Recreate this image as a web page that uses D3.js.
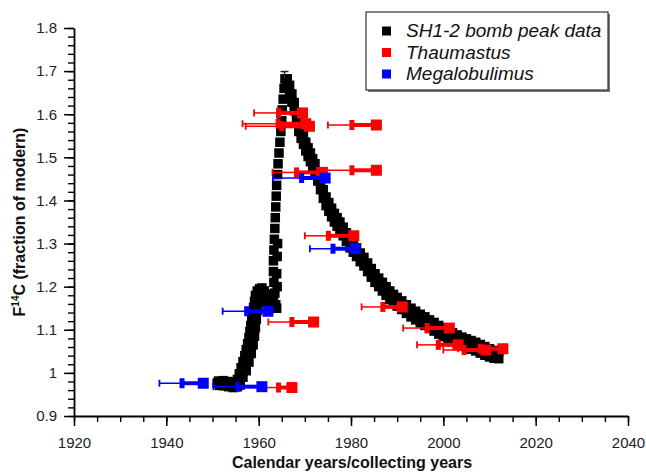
<!DOCTYPE html>
<html><head><meta charset="utf-8">
<script src="https://cdn.jsdelivr.net/npm/d3@7"></script>
<style>
body{margin:0;background:#fff}
svg{display:block;font-family:"Liberation Sans",Arial,Helvetica,sans-serif}
</style>
</head><body>
<svg id="chart" width="646" height="473"></svg>
<script>
// ---------- data ----------
const xTickValues = [1920, 1940, 1960, 1980, 2000, 2020, 2040];
const xTickLabels = ["1920", "1940", "1960", "1980", "2000", "2020", "2040"];
const yTickValues = [0.9, 1.0, 1.1, 1.2, 1.3, 1.4, 1.5, 1.6, 1.7, 1.8];
const yTickLabels = ["0.9", "1", "1.1", "1.2", "1.3", "1.4", "1.5", "1.6", "1.7", "1.8"];
const legendLabels = ["SH1-2 bomb peak data", "Thaumastus", "Megalobulimus"];
const xTitle = "Calendar years/collecting years";

// SH1-2 bomb peak data: [year, F14C]
const bombPeak = [
  [1951.0,0.976],[1951.5,0.971],[1952.0,0.977],[1952.5,0.970],[1953.0,0.975],[1953.5,0.968],
  [1954.0,0.973],[1954.5,0.966],[1955.0,0.975],[1951.3,0.981],[1952.3,0.982],[1953.3,0.980],
  [1954.2,0.979],[1955.4,0.968],[1956.0,0.972],
  [1955.4,0.985],[1955.8,0.998],[1956.2,1.012],[1956.6,1.026],[1957.0,1.040],[1957.3,1.054],
  [1957.6,1.068],[1957.9,1.082],[1958.1,1.096],[1958.3,1.110],[1958.5,1.124],[1958.7,1.138],
  [1958.9,1.152],[1959.1,1.166],[1959.3,1.180],[1959.7,1.190],[1960.2,1.195],[1960.7,1.197],
  [1961.2,1.190],[1961.7,1.183],[1962.2,1.175],[1962.7,1.170],[1963.2,1.165],[1963.7,1.158],
  [1956.6,0.990],[1957.3,1.005],[1957.9,1.025],[1958.4,1.045],[1958.8,1.065],[1959.1,1.085],
  [1959.3,1.105],[1959.5,1.125],[1959.7,1.145],[1960.0,1.165],[1960.6,1.172],[1961.2,1.166],
  [1961.8,1.161],[1962.4,1.158],[1963.0,1.152],[1963.9,1.150],
  [1963.5,1.185],[1963.3,1.210],[1963.2,1.235],[1963.2,1.260],[1963.3,1.285],[1963.4,1.310],
  [1963.5,1.335],[1963.6,1.360],[1963.7,1.385],[1963.8,1.410],[1963.9,1.435],[1964.1,1.460],
  [1964.2,1.485],[1964.4,1.510],[1964.6,1.535],[1964.8,1.560],[1965.0,1.585],[1965.1,1.610],
  [1965.3,1.635],[1965.5,1.660],[1965.7,1.682],
  [1963.9,1.230],[1964.0,1.270],[1964.1,1.300],[1964.0,1.200],
  [1966.2,1.682],[1966.2,1.663],[1966.7,1.667],[1966.7,1.648],[1967.2,1.647],[1967.2,1.628],
  [1967.7,1.627],[1967.7,1.608],[1968.2,1.602],[1968.2,1.583],[1968.7,1.580],[1968.7,1.560],
  [1969.2,1.564],[1969.2,1.544],[1969.7,1.550],[1969.7,1.530],[1970.2,1.535],[1970.2,1.515],
  [1970.7,1.522],[1970.7,1.502],[1971.2,1.510],[1971.2,1.490],[1971.7,1.497],[1971.7,1.477],
  [1972.2,1.485],[1972.2,1.465],[1972.8,1.465],[1972.8,1.445],[1973.4,1.445],[1973.4,1.425],
  [1974.0,1.425],[1974.0,1.405],[1974.6,1.408],[1974.6,1.388],[1975.2,1.395],[1975.2,1.375],
  [1975.8,1.382],[1975.8,1.362],[1976.4,1.370],[1976.4,1.350],[1977.0,1.360],[1977.0,1.340],
  [1977.6,1.350],[1977.6,1.330],[1978.3,1.338],[1978.3,1.318],[1979.0,1.325],[1979.0,1.305],
  [1979.8,1.310],[1979.8,1.290],[1980.5,1.300],[1980.5,1.280],[1981.2,1.290],[1981.2,1.270],
  [1982.0,1.278],[1982.0,1.258],[1982.8,1.268],[1982.8,1.248],[1983.6,1.255],[1983.6,1.235],
  [1984.4,1.242],[1984.4,1.222],[1985.2,1.230],[1985.2,1.210],[1986.0,1.220],[1986.0,1.200],
  [1986.8,1.210],[1986.8,1.190],[1987.6,1.200],[1987.6,1.180],[1988.4,1.190],[1988.4,1.170],
  [1989.2,1.182],[1989.2,1.162],[1990.0,1.175],[1990.0,1.155],[1991.0,1.167],[1991.0,1.147],
  [1992.0,1.158],[1992.0,1.138],[1993.0,1.150],[1993.0,1.130],[1994.0,1.143],[1994.0,1.123],
  [1995.0,1.136],[1995.0,1.116],[1996.0,1.130],[1996.0,1.110],[1997.0,1.123],[1997.0,1.103],
  [1998.0,1.117],[1998.0,1.097],[1999.0,1.110],[1999.0,1.090],[2000.0,1.104],[2000.0,1.084],
  [2001.0,1.098],[2001.0,1.078],[2002.0,1.093],[2002.0,1.073],[2003.0,1.088],[2003.0,1.068],
  [2004.0,1.083],[2004.0,1.063],[2005.0,1.079],[2005.0,1.059],[2006.0,1.075],[2006.0,1.055],
  [2007.0,1.071],[2007.0,1.051],[2008.0,1.066],[2008.0,1.046],[2009.0,1.061],[2009.0,1.041],
  [2010.0,1.056],[2010.0,1.037],[2011.0,1.052],[2011.0,1.034],[2012.0,1.049],[2012.0,1.033]
];
// peak point with its vertical error: [year, F14C, error]
const bombPeakError = [1965.6, 1.684, 0.015];

// snail shells: F14C, outer (2-sigma) start, inner (1-sigma) start, collecting year
const thaumastus = [
  {f:1.603, outer:1959.0, inner:1964.3, year:1969.5},
  {f:1.578, outer:1956.5, inner:1964.2, year:1970.2},
  {f:1.572, outer:1957.2, inner:1965.0, year:1971.0},
  {f:1.575, outer:1975.0, inner:1980.2, year:1985.5},
  {f:1.470, outer:1974.8, inner:1980.2, year:1985.5},
  {f:1.465, outer:1963.0, inner:1968.2, year:1973.6},
  {f:1.318, outer:1970.0, inner:1975.1, year:1980.6},
  {f:1.118, outer:1962.1, inner:1967.2, year:1971.9},
  {f:0.966, outer:1961.0, inner:1964.3, year:1967.2},
  {f:1.153, outer:1982.3, inner:1986.9, year:1991.1},
  {f:1.104, outer:1991.3, inner:1996.5, year:2001.3},
  {f:1.065, outer:1994.3, inner:1998.9, year:2003.2},
  {f:1.053, outer:2000.0, inner:2004.5, year:2009.2},
  {f:1.056, outer:2003.2, inner:2008.0, year:2012.9}
];
const megalobulimus = [
  {f:1.452, outer:1963.1, inner:1969.3, year:1974.4},
  {f:1.288, outer:1971.1, inner:1976.1, year:1980.9},
  {f:1.143, outer:1952.2, inner:1957.4, year:1962.0},
  {f:0.968, outer:1950.2, inner:1955.5, year:1960.7},
  {f:0.976, outer:1938.5, inner:1943.4, year:1948.0}
];

const colors = {bomb:"#000000", thaumastus:"#ff0000", megalobulimus:"#0000ff"};

// ---------- chart ----------
const svg = d3.select("#chart");
const x = d3.scaleLinear().domain([1920, 2040]).range([74, 628]);
const y = d3.scaleLinear().domain([0.9, 1.8]).range([416, 28]);

// minor ticks
svg.append("g").attr("transform","translate(74,0)")
  .call(d3.axisLeft(y).tickValues(d3.range(0.9, 1.8001, 0.02)).tickSize(6).tickFormat("").tickSizeOuter(0))
  .call(g => g.select(".domain").remove())
  .call(g => g.selectAll("line").attr("stroke","#000").attr("stroke-width",1.4));
svg.append("g").attr("transform","translate(0,416)")
  .call(d3.axisBottom(x).tickValues(d3.range(1920, 2040.1, 5)).tickSize(6).tickFormat("").tickSizeOuter(0))
  .call(g => g.select(".domain").remove())
  .call(g => g.selectAll("line").attr("stroke","#000").attr("stroke-width",1.4));

// major ticks + labels
const yAxis = svg.append("g").attr("transform","translate(74,0)")
  .call(d3.axisLeft(y).tickValues(yTickValues).tickSize(10).tickPadding(7).tickSizeOuter(0)
    .tickFormat((d,i) => yTickLabels[i]));
const xAxis = svg.append("g").attr("transform","translate(0,416)")
  .call(d3.axisBottom(x).tickValues(xTickValues).tickSize(10).tickPadding(11).tickSizeOuter(0)
    .tickFormat((d,i) => xTickLabels[i]));
[yAxis, xAxis].forEach(a => {
  a.select(".domain").attr("stroke","#000").attr("stroke-width",1.8);
  a.selectAll(".tick line").attr("stroke","#000").attr("stroke-width",1.5);
  a.selectAll(".tick text").attr("fill","#222").style("font-size","15px")
    .style("font-family",'"Liberation Sans",Arial,sans-serif');
});

// axis titles
svg.append("text").attr("x", 352).attr("y", 468).attr("text-anchor","middle")
  .style("font-size","16px").style("font-weight","bold").attr("fill","#111").text(xTitle);
const yt = svg.append("text").attr("transform","translate(25,222) rotate(-90)")
  .attr("text-anchor","middle").style("font-size","16px").style("font-weight","bold").attr("fill","#111");
yt.append("tspan").text("F");
yt.append("tspan").attr("dy",-6).style("font-size","10px").text("14");
yt.append("tspan").attr("dy",6).text("C (fraction of modern)");

// bomb peak data
const m = 9.5;
svg.append("g").selectAll("rect").data(bombPeak).join("rect")
  .attr("x", d => x(d[0]) - m/2).attr("y", d => y(d[1]) - m/2)
  .attr("width", m).attr("height", m).attr("fill", colors.bomb);
// peak error bar
svg.append("line").attr("x1", x(bombPeakError[0])).attr("x2", x(bombPeakError[0]))
  .attr("y1", y(bombPeakError[1])).attr("y2", y(bombPeakError[1] + bombPeakError[2]))
  .attr("stroke","#222").attr("stroke-width",1.5);
svg.append("line").attr("x1", x(bombPeakError[0]) - 4).attr("x2", x(bombPeakError[0]) + 4)
  .attr("y1", y(bombPeakError[1] + bombPeakError[2])).attr("y2", y(bombPeakError[1] + bombPeakError[2]))
  .attr("stroke","#222").attr("stroke-width",1.5);

function drawSnail(data, color) {
  const g = svg.append("g");
  const s = g.selectAll("g").data(data).join("g");
  s.append("line").attr("x1", d => x(d.outer)).attr("x2", d => x(d.inner))
    .attr("y1", d => y(d.f)).attr("y2", d => y(d.f)).attr("stroke", color).attr("stroke-width", 1.5);
  s.append("line").attr("x1", d => x(d.outer)).attr("x2", d => x(d.outer))
    .attr("y1", d => y(d.f) - 3.5).attr("y2", d => y(d.f) + 3.5).attr("stroke", color).attr("stroke-width", 1.8);
  s.append("line").attr("x1", d => x(d.inner)).attr("x2", d => x(d.year))
    .attr("y1", d => y(d.f)).attr("y2", d => y(d.f)).attr("stroke", color).attr("stroke-width", 4);
  s.append("rect").attr("x", d => x(d.inner) - 2.5).attr("y", d => y(d.f) - 5)
    .attr("width", 5).attr("height", 10).attr("fill", color);
  s.append("rect").attr("x", d => x(d.year) - 5.5).attr("y", d => y(d.f) - 5.5)
    .attr("width", 11).attr("height", 11).attr("fill", color);
}
drawSnail(thaumastus, colors.thaumastus);
drawSnail(megalobulimus, colors.megalobulimus);

// legend
const lg = svg.append("g");
lg.append("rect").attr("x", 368).attr("y", 14).attr("width", 242).attr("height", 78).attr("fill", "#777");
lg.append("rect").attr("x", 366).attr("y", 12).attr("width", 242).attr("height", 78)
  .attr("fill", "#fff").attr("stroke", "#333").attr("stroke-width", 1.2);
const legendColors = [colors.bomb, colors.thaumastus, colors.megalobulimus];
legendLabels.forEach((t, i) => {
  const cy = 31 + i * 21.5;
  lg.append("rect").attr("x", 382).attr("y", cy - 4.5).attr("width", 9).attr("height", 9).attr("fill", legendColors[i]);
  lg.append("text").attr("x", 406).attr("y", cy + 6).style("font-size", "19px").style("font-style", "italic")
    .attr("fill", "#111").text(t);
});
</script>
</body></html>
